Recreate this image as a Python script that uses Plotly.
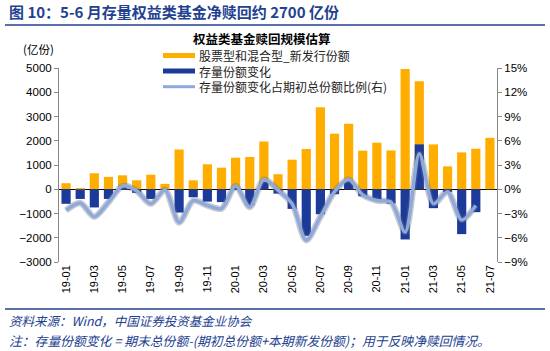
import plotly.graph_objects as go

months = ["19-01","19-02","19-03","19-04","19-05","19-06","19-07","19-08","19-09","19-10","19-11","19-12",
          "20-01","20-02","20-03","20-04","20-05","20-06","20-07","20-08","20-09","20-10","20-11","20-12",
          "21-01","21-02","21-03","21-04","21-05","21-06","21-07"]
new_issue = [250, 50, 660, 510, 575, 370, 600, 220, 1640, 370, 1030, 890,
             1300, 1330, 1970, 620, 1220, 1660, 3380, 2290, 2700, 1590, 1920, 1600,
             4960, 4450, 1850, 945, 1520, 1670, 2120]
stock_change = [-600, -400, -750, -400, 80, -150, -400, -20, -960, -330, -510, -530,
                50, -660, 300, -180, -810, -1920, -1030, -205, 340, -290, -450, -590,
                -2070, 1850, -780, -110, -1850, -945, None]
ratio = [-2.6, -1.7, -3.4, -1.6, 0.4, -0.2, -1.8, -0.1, -4.1, -1.4, -2.0, -2.4,
         0.4, -2.2, 1.2, -0.1, -1.8, -6.3, -3.4, -0.3, 1.2, -0.7, -1.4, -1.6,
         -5.3, 4.4, -1.8, -0.3, -3.8, -2.0, None]
tick_labels = months[::2]
series_names = ["股票型和混合型_新发行份额", "存量份额变化", "存量份额变化占期初总份额比例(右)"]

W, H = 550, 351
L, R, T, B = 59, 497, 68, 262

def px(x):
    return (x - L) / (R - L)

def py(y):
    return (B - y) / (B - T)

YELLOW = "#FFAE00"
NAVY = "#1B3A9A"
LINE = "#8EA9DB"
TITLE_BLUE = "#22418F"
FONT = "Liberation Sans, Noto Sans CJK SC, sans-serif"
CJK = "Noto Sans CJK SC, sans-serif"

fig = go.Figure()
fig.add_trace(go.Bar(x=months, y=new_issue, name=series_names[0],
                     marker=dict(color=YELLOW, line=dict(width=0))))
fig.add_trace(go.Bar(x=months, y=stock_change, name=series_names[1],
                     marker=dict(color=NAVY, line=dict(width=0))))
fig.add_trace(go.Scatter(x=months, y=ratio, yaxis="y2", mode="lines",
                         line=dict(color="rgba(110,110,120,0.35)", width=6.5, shape="spline", smoothing=0.8),
                         hoverinfo="skip"))
fig.add_trace(go.Scatter(x=months, y=ratio, yaxis="y2", mode="lines", name=series_names[2],
                         line=dict(color=LINE, width=3.5, shape="spline", smoothing=0.8)))

fig.update_layout(
    width=W, height=H,
    margin=dict(l=L, r=W - R, t=T, b=H - B),
    paper_bgcolor="white", plot_bgcolor="white",
    barmode="overlay", bargap=0.35,
    font=dict(family=FONT, size=11, color="#000"),
    showlegend=False,
    xaxis=dict(type="category", tickmode="array", tickvals=tick_labels, ticktext=tick_labels,
               tickangle=-90, showgrid=False, showline=False, ticks="",
               tickfont=dict(size=11, color="#000"), range=[-0.5, 30.5]),
    yaxis=dict(range=[-3000, 5000], dtick=1000, showgrid=False, showline=True, linecolor="#888",
               linewidth=1, ticks="outside", ticklen=4, tickcolor="#888",
               zeroline=True, zerolinecolor="#000", zerolinewidth=1,
               tickfont=dict(size=11.5, color="#000")),
    yaxis2=dict(range=[-9, 15], dtick=3, overlaying="y", side="right", showgrid=False,
                showline=True, linecolor="#888", linewidth=1, ticks="outside", ticklen=4,
                tickcolor="#888", ticksuffix="%", zeroline=False,
                tickfont=dict(size=11.5, color="#000")),
)

shapes = [
    dict(type="line", xref="paper", yref="paper", x0=px(5), x1=px(545), y0=py(25), y1=py(25),
         line=dict(color=TITLE_BLUE, width=1.5)),
    dict(type="line", xref="paper", yref="paper", x0=px(5), x1=px(545), y0=py(309), y1=py(309),
         line=dict(color=TITLE_BLUE, width=1.5)),
    # legend keys
    dict(type="rect", xref="paper", yref="paper", x0=px(163), x1=px(195), y0=py(53), y1=py(58),
         fillcolor=YELLOW, line=dict(width=0)),
    dict(type="rect", xref="paper", yref="paper", x0=px(163), x1=px(195), y0=py(68.5), y1=py(73.5),
         fillcolor=NAVY, line=dict(width=0)),
    dict(type="line", xref="paper", yref="paper", x0=px(163), x1=px(195), y0=py(86.7), y1=py(86.7),
         line=dict(color=LINE, width=3)),
]
fig.update_layout(shapes=shapes)

ann = [
    dict(text="<b>图 10：5-6 月存量权益类基金净赎回约 2700 亿份</b>", x=px(7), y=py(12),
         xanchor="left", yanchor="middle", font=dict(family=CJK, size=15, color=TITLE_BLUE)),
    dict(text="<b>权益类基金赎回规模估算</b>", x=px(262), y=py(38.5),
         xanchor="center", yanchor="middle", font=dict(family=CJK, size=12.5, color="#000")),
    dict(text="(亿份)", x=px(21), y=py(49), xanchor="left", yanchor="middle",
         font=dict(family=CJK, size=11.5, color="#000")),
    dict(text="<br>".join(series_names), x=px(197), y=py(71), xanchor="left", yanchor="middle",
         align="left", font=dict(family=CJK, size=12, color="#222")),
    dict(text="<i>资料来源：Wind，中国证券投资基金业协会</i>", x=px(7), y=py(320),
         xanchor="left", yanchor="middle", font=dict(family=CJK, size=12.5, color=TITLE_BLUE)),
    dict(text="<i>注：存量份额变化 = 期末总份额-(期初总份额+本期新发份额)；用于反映净赎回情况。</i>", x=px(7), y=py(340),
         xanchor="left", yanchor="middle", font=dict(family=CJK, size=12.8, color=TITLE_BLUE)),
]
for a in ann:
    a.update(xref="paper", yref="paper", showarrow=False)
fig.update_layout(annotations=ann)

fig.write_html("out.html")
